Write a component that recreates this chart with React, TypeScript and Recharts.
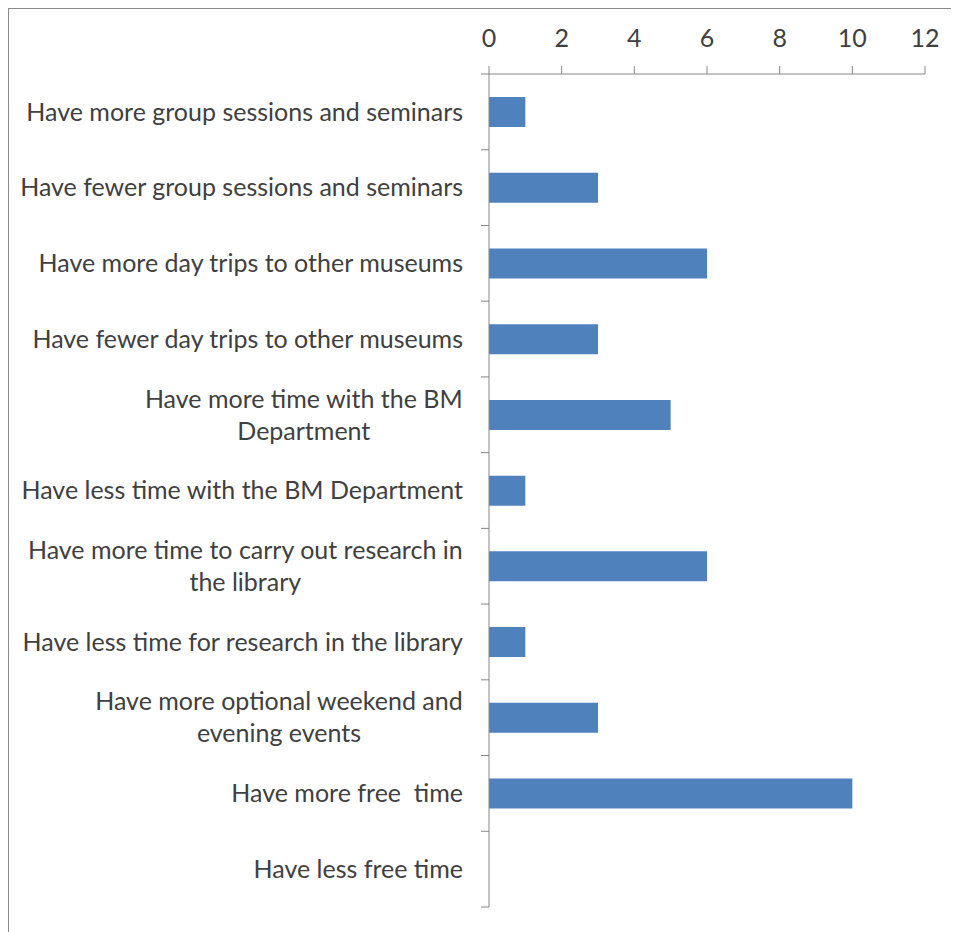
import React from "react";
import { BarChart, Bar, XAxis, YAxis } from "recharts";

const categories: string[] = [
  "Have more group sessions and seminars",
  "Have fewer group sessions and seminars",
  "Have more day trips to other museums",
  "Have fewer day trips to other museums",
  "Have more time with the BM\nDepartment",
  "Have less time with the BM Department",
  "Have more time to carry out research in\nthe library",
  "Have less time for research in the library",
  "Have more optional weekend and\nevening events",
  "Have more free  time",
  "Have less free time",
];
const counts: number[] = [1, 3, 6, 3, 5, 1, 6, 1, 3, 10, 0];
const xTicks: number[] = [0, 2, 4, 6, 8, 10, 12];

const data = categories.map((name, i) => ({ name, value: counts[i] }));

const FONT = "Lato, 'Open Sans', sans-serif";
const FONT_SIZE = 25;
const TEXT = "#404040";
const AXIS = "#868686";

let canvasCtx: CanvasRenderingContext2D | null = null;
function measure(s: string): number {
  if (!canvasCtx) {
    const c = document.createElement("canvas");
    canvasCtx = c.getContext("2d");
  }
  if (!canvasCtx) return s.length * FONT_SIZE * 0.5;
  canvasCtx.font = `${FONT_SIZE}px Lato`;
  return canvasCtx.measureText(s).width;
}

const YTick = (props: any) => {
  const { x, y, payload, index } = props;
  const half = payload && payload.offset ? payload.offset : 37.9;
  const lines: string[] = String(payload.value).split("\n");
  const right = x - 26;
  const lh = 32;
  const startY = y - ((lines.length - 1) * lh) / 2;
  const maxW = Math.max(...lines.map(measure));
  const isLast = index === categories.length - 1;
  return (
    <g>
      <line x1={x - 8} x2={x} y1={y - half} y2={y - half} stroke={AXIS} strokeWidth={1} />
      {isLast && <line x1={x - 8} x2={x} y1={y + half} y2={y + half} stroke={AXIS} strokeWidth={1} />}
      {lines.map((ln, i) => (
        <text
          key={i}
          x={lines.length > 1 ? right - maxW / 2 : right}
          y={startY + i * lh}
          dy="0.35em"
          textAnchor={lines.length > 1 ? "middle" : "end"}
          fill={TEXT}
          fontSize={FONT_SIZE}
          fontFamily={FONT}
          style={{ whiteSpace: "pre" }}
        >
          {ln}
        </text>
      ))}
    </g>
  );
};

export default function App() {
  return (
    <div style={{ position: "relative", width: 951, height: 924 }}>
      <style>{`html{overflow:hidden} #root{width:951px;height:924px}`}</style>
      <div
        style={{
          position: "absolute",
          left: -1,
          top: -1,
          width: 952,
          height: 925,
          boxSizing: "border-box",
          borderTop: "2px solid #8a8a8a",
          borderLeft: "2px solid #8a8a8a",
        }}
      />
      <BarChart
        width={940}
        height={910}
        data={data}
        layout="vertical"
        margin={{ top: 0, right: 23, bottom: 11, left: 0 }}
        style={{ position: "absolute", left: 0, top: 0 }}
      >
        <XAxis
          type="number"
          orientation="top"
          domain={[0, 12]}
          ticks={xTicks}
          interval={0}
          height={66}
          tickSize={8}
          tickMargin={19}
          stroke={AXIS}
          tick={{ fill: TEXT, fontSize: FONT_SIZE, fontFamily: FONT }}
        />
        <YAxis
          type="category"
          dataKey="name"
          width={481}
          tickLine={false}
          tickSize={0}
          tickMargin={0}
          interval={0}
          stroke={AXIS}
          tick={<YTick />}
        />
        <Bar dataKey="value" fill="#4F81BD" barSize={30} isAnimationActive={false} />
      </BarChart>
    </div>
  );
}
